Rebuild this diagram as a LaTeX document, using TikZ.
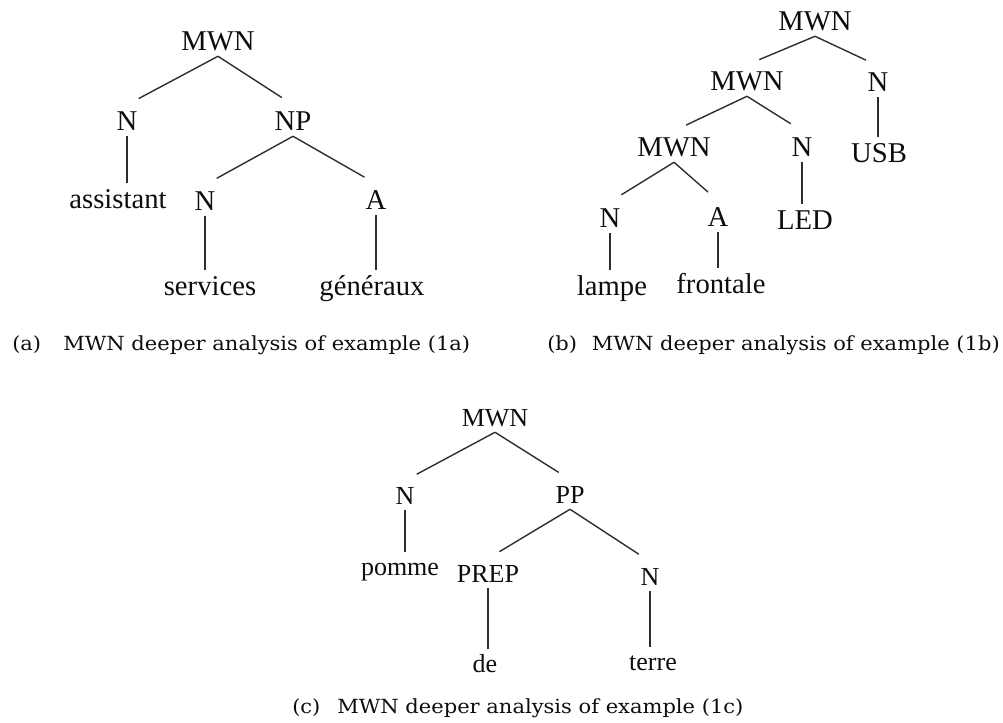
\documentclass[tikz,border=0pt]{standalone}
\usepackage{fontspec}
\setmainfont{Liberation Serif}
\newfontfamily\capfont[FakeStretch=1.08]{DejaVu Serif}
\begin{document}
\begin{tikzpicture}[x=0.75pt,y=-0.75pt,
  cat/.style={font=\fontsize{21.5}{24}\selectfont, inner xsep=0pt, inner ysep=4.5pt,
     text height=14.2pt, text depth=0pt, anchor=base, text=black!95},
  catc/.style={font=\fontsize{19.5}{22}\selectfont, inner xsep=0pt, inner ysep=4.5pt,
     text height=12.9pt, text depth=0pt, anchor=base, text=black!95},
  branch/.style={draw=black!82, line width=1.05pt, shorten >=10pt},
  stem/.style={draw=black!82, line width=1.05pt},
  caplbl/.style={font=\capfont\fontsize{14.6}{17}\selectfont, inner sep=0pt, anchor=base west, text=black!95}
]
\useasboundingbox (0,0) rectangle (1003,722);

% ---------- tree (a) ----------
\node[cat] (aMWN) at (218,50) {MWN};
\node[cat] (aN1) at (127,130) {N};
\node[cat] (aNP) at (293,130) {NP};
\node[cat] (aass) at (118,208) {assistant};
\node[cat] (aN2) at (205,210) {N};
\node[cat] (aA) at (376,209) {A};
\node[cat] (aser) at (210,295) {services};
\node[cat] (agen) at (372,295) {généraux};
\draw[branch] (aMWN.south) -- (aN1.north);
\draw[branch] (aMWN.south) -- (aNP.north);
\draw[branch] (aNP.south) -- (aN2.north);
\draw[branch] (aNP.south) -- (aA.north);
\draw[stem] (aN1.south) -- (aN1.south |- aass.north);
\draw[stem] (aN2.south) -- (aN2.south |- aser.north);
\draw[stem] (aA.south) -- (aA.south |- agen.north);

% ---------- tree (b) ----------
\node[cat] (bM1) at (815,30) {MWN};
\node[cat] (bM2) at (747,90) {MWN};
\node[cat] (bN1) at (878,91) {N};
\node[cat] (busb) at (879,162) {USB};
\node[cat] (bM3) at (674,156) {MWN};
\node[cat] (bN2) at (802,156) {N};
\node[cat] (bN3) at (610,227) {N};
\node[cat] (bA) at (718,226) {A};
\node[cat] (bled) at (805,229) {LED};
\node[cat] (blam) at (612,295) {lampe};
\node[cat] (bfro) at (721,293) {frontale};
\draw[branch] (bM1.south) -- (bM2.north);
\draw[branch] (bM1.south) -- (bN1.north);
\draw[branch] (bM2.south) -- (bM3.north);
\draw[branch] (bM2.south) -- (bN2.north);
\draw[branch] (bM3.south) -- (bN3.north);
\draw[branch] (bM3.south) -- (bA.north);
\draw[stem] (bN1.south) -- (bN1.south |- busb.north);
\draw[stem] (bN2.south) -- (bN2.south |- bled.north);
\draw[stem] (bN3.south) -- (bN3.south |- blam.north);
\draw[stem] (bA.south) -- (bA.south |- bfro.north);

% ---------- tree (c) ----------
\node[catc] (cM) at (495,426) {MWN};
\node[catc] (cN1) at (405,504) {N};
\node[catc] (cPP) at (570,503) {PP};
\node[catc] (cpom) at (400,575) {pomme};
\node[catc] (cPREP) at (488,582) {PREP};
\node[catc] (cN2) at (650,585) {N};
\node[catc] (cde) at (485,672) {de};
\node[catc] (cter) at (653,670) {terre};
\draw[branch] (cM.south) -- (cN1.north);
\draw[branch] (cM.south) -- (cPP.north);
\draw[branch] (cPP.south) -- (cPREP.north);
\draw[branch] (cPP.south) -- (cN2.north);
\draw[stem] (cN1.south) -- (cN1.south |- cpom.north);
\draw[stem] (cPREP.south) -- (cPREP.south |- cde.north);
\draw[stem] (cN2.south) -- (cN2.south |- cter.north);

% ---------- captions ----------
\node[caplbl] (capa) at (12,350) {(a)};
\node[caplbl] (capat) at (63,350) {MWN deeper analysis of example (1a)};
\node[caplbl] (capb) at (547,350) {(b)};
\node[caplbl, anchor=base east] (capbt) at (1000,350) {MWN deeper analysis of example (1b)};
\node[caplbl] (capc) at (292,713) {(c)};
\node[caplbl] (capct) at (337,713) {MWN deeper analysis of example (1c)};
\end{tikzpicture}
\end{document}
